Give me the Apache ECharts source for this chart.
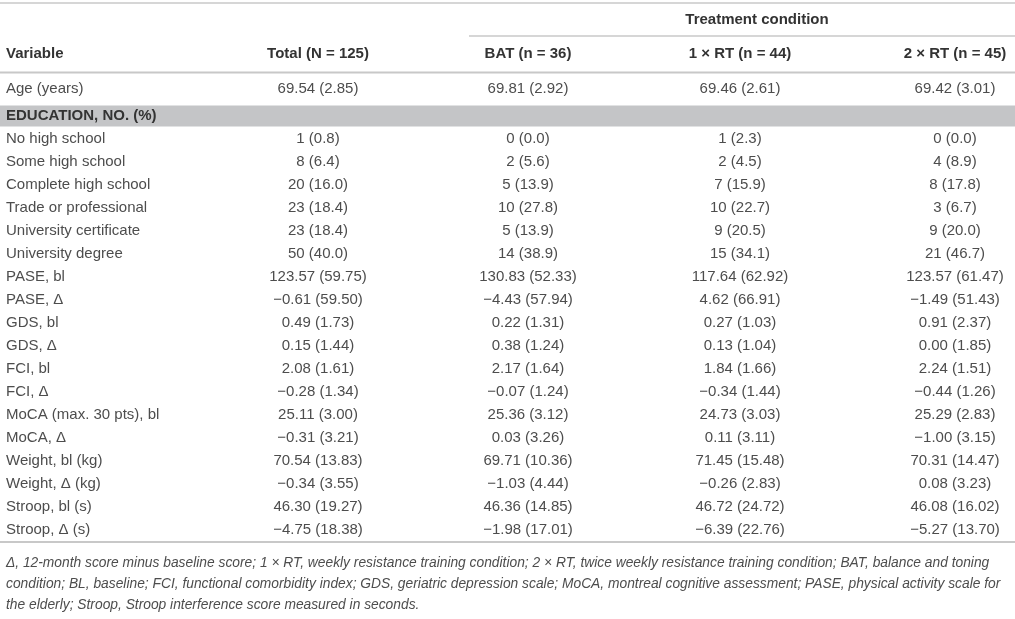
<!DOCTYPE html>
<html lang="en">

<head>
    <meta charset="UTF-8">
    <title>Baseline characteristics</title>
    <style>
        html, body {
            margin: 0;
            padding: 0;
            background-color: #ffffff;
        }

        #main {
            width: 1015px;
            height: 619px;
        }
    </style>
</head>

<body>
    <div id="main"></div>

    <script src="https://cdn.jsdelivr.net/npm/echarts@6/dist/echarts.min.js"></script>
    <script>
        // table content
        var variables = [
            'Age (years)', 'EDUCATION, NO. (%)', 'No high school', 'Some high school',
            'Complete high school', 'Trade or professional', 'University certificate',
            'University degree', 'PASE, bl', 'PASE, \u0394', 'GDS, bl', 'GDS, \u0394',
            'FCI, bl', 'FCI, \u0394', 'MoCA (max. 30 pts), bl', 'MoCA, \u0394',
            'Weight, bl (kg)', 'Weight, \u0394 (kg)', 'Stroop, bl (s)', 'Stroop, \u0394 (s)'
        ];
        var sectionRows = [1];
        var countRows = [2, 3, 4, 5, 6, 7];

        var columnTitles = ['Variable', 'Total (N = 125)', 'BAT (n = 36)', '1 \u00d7 RT (n = 44)', '2 \u00d7 RT (n = 45)'];
        var groupTitle = 'Treatment condition';

        // [mean, sd] or [count, percent]; null for the section row
        var total = [
            [69.54, 2.85], null, [1, 0.8], [8, 6.4], [20, 16.0], [23, 18.4], [23, 18.4], [50, 40.0],
            [123.57, 59.75], [-0.61, 59.50], [0.49, 1.73], [0.15, 1.44], [2.08, 1.61], [-0.28, 1.34],
            [25.11, 3.00], [-0.31, 3.21], [70.54, 13.83], [-0.34, 3.55], [46.30, 19.27], [-4.75, 18.38]
        ];
        var bat = [
            [69.81, 2.92], null, [0, 0.0], [2, 5.6], [5, 13.9], [10, 27.8], [5, 13.9], [14, 38.9],
            [130.83, 52.33], [-4.43, 57.94], [0.22, 1.31], [0.38, 1.24], [2.17, 1.64], [-0.07, 1.24],
            [25.36, 3.12], [0.03, 3.26], [69.71, 10.36], [-1.03, 4.44], [46.36, 14.85], [-1.98, 17.01]
        ];
        var rt1 = [
            [69.46, 2.61], null, [1, 2.3], [2, 4.5], [7, 15.9], [10, 22.7], [9, 20.5], [15, 34.1],
            [117.64, 62.92], [4.62, 66.91], [0.27, 1.03], [0.13, 1.04], [1.84, 1.66], [-0.34, 1.44],
            [24.73, 3.03], [0.11, 3.11], [71.45, 15.48], [-0.26, 2.83], [46.72, 24.72], [-6.39, 22.76]
        ];
        var rt2 = [
            [69.42, 3.01], null, [0, 0.0], [4, 8.9], [8, 17.8], [3, 6.7], [9, 20.0], [21, 46.7],
            [123.57, 61.47], [-1.49, 51.43], [0.91, 2.37], [0.00, 1.85], [2.24, 1.51], [-0.44, 1.26],
            [25.29, 2.83], [-1.00, 3.15], [70.31, 14.47], [0.08, 3.23], [46.08, 16.02], [-5.27, 13.70]
        ];

        var footnote = [
            '\u0394, 12-month score minus baseline score; 1 \u00d7 RT, weekly resistance training condition; 2 \u00d7 RT, twice weekly resistance training condition; BAT, balance and toning',
            'condition; BL, baseline; FCI, functional comorbidity index; GDS, geriatric depression scale; MoCA, montreal cognitive assessment; PASE, physical activity scale for',
            'the elderly; Stroop, Stroop interference score measured in seconds.'
        ];

        // layout (pixel units on the hidden x axis)
        var colX = [6, 318, 528, 740, 955];
        var firstRowNudge = -4; // the first body row sits a little higher, right under the header rule
        var fontFamily = '"Liberation Sans", Arial, sans-serif';
        var textColor = '#4d4d4d';
        var boldColor = '#333333';
        var ruleColor = '#c8c8c8';

        function fmt(v, digits) {
            var s = Math.abs(v).toFixed(digits);
            return (v < 0 ? '\u2212' : '') + s;
        }

        function cellText(pair, row) {
            if (!pair) return '';
            if (countRows.indexOf(row) >= 0) {
                return pair[0] + ' (' + pair[1].toFixed(1) + ')';
            }
            return fmt(pair[0], 2) + ' (' + pair[1].toFixed(2) + ')';
        }

        var columns = [total, bat, rt1, rt2];
        var cells = [];
        var texts = [];
        variables.forEach(function (name, row) {
            cells.push([colX[0], row, 0]);
            texts.push(name);
            columns.forEach(function (col, c) {
                var t = cellText(col[row], row);
                if (t) {
                    cells.push([colX[c + 1], row, c + 1]);
                    texts.push(t);
                }
            });
        });

        var chartDom = document.getElementById('main');
        var myChart = echarts.init(chartDom, null, { renderer: 'canvas' });

        var headerGraphics = [
            { type: 'line', shape: { x1: 0, y1: 3, x2: 1015, y2: 3 }, style: { stroke: ruleColor, lineWidth: 1.5 } },
            { type: 'line', shape: { x1: 469, y1: 36, x2: 1015, y2: 36 }, style: { stroke: ruleColor, lineWidth: 1.5 } },
            { type: 'line', shape: { x1: 0, y1: 72.5, x2: 1015, y2: 72.5 }, style: { stroke: ruleColor, lineWidth: 2 } },
            {
                type: 'text', x: 757, y: 20,
                style: { text: groupTitle, font: 'bold 15px ' + fontFamily, fill: boldColor, align: 'center', verticalAlign: 'middle' }
            }
        ];
        columnTitles.forEach(function (t, i) {
            headerGraphics.push({
                type: 'text', x: colX[i], y: 54,
                style: { text: t, font: 'bold 15px ' + fontFamily, fill: boldColor, align: i === 0 ? 'left' : 'center', verticalAlign: 'middle' }
            });
        });
        footnote.forEach(function (t, i) {
            headerGraphics.push({
                type: 'text', x: 6, y: 563 + i * 21,
                style: { text: t, font: 'italic 13.8px ' + fontFamily, fill: textColor, align: 'left', verticalAlign: 'middle' }
            });
        });

        var option = {
            animation: false,
            graphic: headerGraphics,
            grid: {
                left: 0,
                right: 0,
                top: 81.5,
                height: 460
            },
            xAxis: {
                type: 'value',
                min: 0,
                max: 1015,
                axisLine: { show: true, onZero: false, lineStyle: { color: ruleColor, width: 2 } },
                axisTick: { show: false },
                axisLabel: { show: false },
                splitLine: { show: false }
            },
            yAxis: {
                type: 'category',
                inverse: true,
                data: variables,
                show: false
            },
            series: [
                {
                    // gray band behind section rows
                    type: 'custom',
                    z: 1,
                    data: sectionRows.map(function (r) { return [0, r]; }),
                    renderItem: function (params, api) {
                        var p = api.coord([0, api.value(1)]);
                        var h = api.size([0, 1])[1];
                        return {
                            type: 'rect',
                            shape: { x: params.coordSys.x, y: p[1] - h / 2 + 1, width: params.coordSys.width, height: h - 2 },
                            style: { fill: '#c4c5c7' }
                        };
                    }
                },
                {
                    type: 'custom',
                    z: 2,
                    data: cells,
                    renderItem: function (params, api) {
                        var row = api.value(1);
                        var col = api.value(2);
                        var p = api.coord([api.value(0), row]);
                        var isSection = sectionRows.indexOf(row) >= 0;
                        return {
                            type: 'text',
                            x: p[0],
                            y: p[1] + (row === 0 ? firstRowNudge : 0),
                            style: {
                                text: texts[params.dataIndex],
                                font: (isSection ? 'bold ' : '') + '15px ' + fontFamily,
                                fill: isSection ? boldColor : textColor,
                                align: col === 0 ? 'left' : 'center',
                                verticalAlign: 'middle'
                            }
                        };
                    }
                }
            ]
        };

        option && myChart.setOption(option);
    </script>
</body>

</html>
